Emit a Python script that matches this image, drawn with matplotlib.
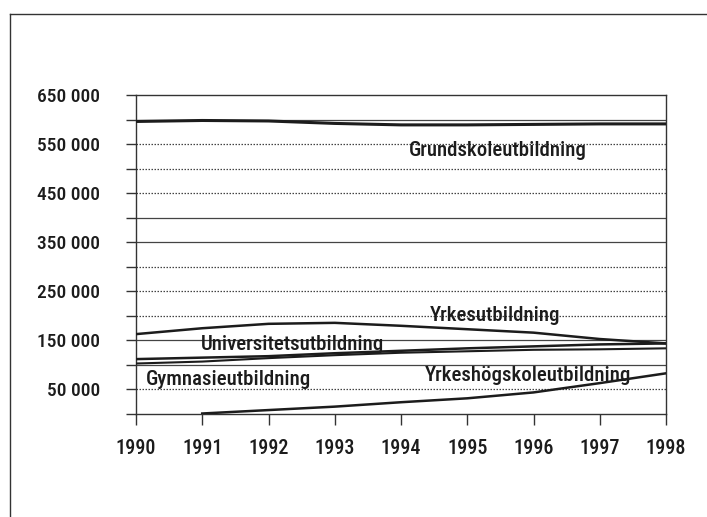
import matplotlib
matplotlib.use("Agg")
import matplotlib.pyplot as plt
from matplotlib import font_manager
from matplotlib.lines import Line2D

# pick a narrow face if one is around
names = {f.name for f in font_manager.fontManager.ttflist}
narrow = [n for n in ["Liberation Sans Narrow", "Roboto Condensed", "DejaVu Sans Condensed",
                      "Open Sans Condensed", "Noto Sans Condensed"] if n in names]
stretched = sorted({f.name for f in font_manager.fontManager.ttflist
                    if f.stretch in ("condensed", "semi-condensed", 75, 87.5)})
if narrow:
    family = narrow[0]
elif stretched:
    family = stretched[0]
else:
    family = "DejaVu Sans"
plt.rcParams["font.family"] = [family, "DejaVu Sans"]
plt.rcParams["font.stretch"] = "condensed"
plt.rcParams["font.weight"] = "medium"

years = [1990, 1991, 1992, 1993, 1994, 1995, 1996, 1997, 1998]

grundskola = [596000, 598000, 597000, 592000, 589000, 589000, 590000, 591000, 591000]
yrkes = [162000, 174000, 183000, 185000, 179000, 172000, 165000, 152000, 143000]
universitet = [111000, 114000, 117000, 123000, 128000, 133000, 137000, 141000, 143000]
gymnasie = [102000, 106000, 113000, 119000, 124000, 127000, 130000, 131000, 133000]
yh_years = [1991, 1992, 1993, 1994, 1995, 1996, 1997, 1998]
yrkeshogskola = [0, 7000, 14000, 23000, 31000, 43000, 62000, 82000]

y_ticks = list(range(0, 650001, 50000))
y_labels = ["50 000", "150 000", "250 000", "350 000", "450 000", "550 000", "650 000"]

ink = "#1c1c1c"

fig = plt.figure(figsize=(7.07, 5.17), dpi=100)
ax = fig.add_axes([136 / 707, 1 - 413.5 / 517, 530 / 707, 318.5 / 517])

# horizontal grid, a mix of solid and dotted rules
solid_levels = [600000, 400000, 350000, 150000, 100000]
for level in y_ticks[1:-1]:
    if level in solid_levels:
        ax.axhline(level, color="#444444", lw=0.9, zorder=1)
    else:
        ax.axhline(level, color="#444444", lw=0.9, ls=(0, (1.2, 1.2)), zorder=1)

ax.plot(years, grundskola, color=ink, lw=2.2, zorder=3)
ax.plot(years, yrkes, color=ink, lw=1.8, zorder=3)
ax.plot(years, universitet, color=ink, lw=1.8, zorder=3)
ax.plot(years, gymnasie, color=ink, lw=1.5, zorder=3)
ax.plot(yh_years, yrkeshogskola, color=ink, lw=1.8, zorder=3)

label_style = dict(fontsize=15, color=ink, ha="left", va="baseline", zorder=4)
ax.text(1994.12, 526000, "Grundskoleutbildning", **label_style)
ax.text(1994.44, 189000, "Yrkesutbildning", **label_style)
ax.text(1990.98, 130000, "Universitetsutbildning", **label_style)
ax.text(1990.15, 58000, "Gymnasieutbildning", **label_style)
ax.text(1994.36, 66000, "Yrkeshögskoleutbildning", **label_style)

ax.set_xlim(1990, 1998)
ax.set_ylim(0, 650000)
ax.set_xticks(years)
ax.set_xticklabels([str(y) for y in years])
ax.set_yticks(y_ticks)
ax.set_yticklabels(["" if v % 100000 == 0 else y_labels[(v - 50000) // 100000]
                    for v in y_ticks])

for side in ["left", "right", "top", "bottom"]:
    ax.spines[side].set_color("#333333")
    ax.spines[side].set_linewidth(1.0)

ax.tick_params(axis="x", direction="out", length=8, width=1.0, color="#333333",
               pad=10, labelsize=14.5, labelcolor=ink)
ax.tick_params(axis="y", direction="out", length=7, width=1.0, color="#333333",
               pad=19, labelsize=14, labelcolor=ink)

# outer frame around the figure
fig.add_artist(Line2D([10 / 707, 1.0], [1 - 14 / 517, 1 - 14 / 517],
                      color="#333333", lw=1.0))
fig.add_artist(Line2D([10 / 707, 10 / 707], [0.0, 1 - 14 / 517],
                      color="#333333", lw=1.0))

fig.savefig("out.png", dpi=100, facecolor="white")
